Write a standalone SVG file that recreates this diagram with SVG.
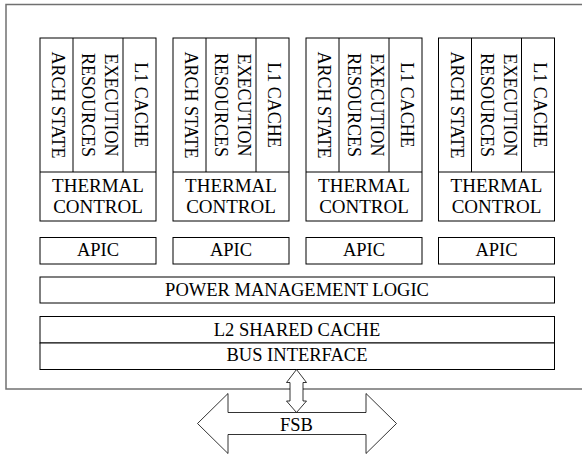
<svg xmlns="http://www.w3.org/2000/svg" width="582" height="454" viewBox="0 0 582 454">
  <style>
    .frame { fill: #fff; stroke: #707070; stroke-width: 1.5; }
    .box { fill: #fff; stroke: #000; stroke-width: 1; }
    .line { fill: none; stroke: #000; stroke-width: 1; }
    .arrow { fill: #fff; stroke: #000; stroke-width: 0.8; }
    .t { font-family: "Liberation Serif", "Times New Roman", serif; font-size: 18.5px; fill: #000; text-anchor: middle; }
    .v { font-size: 18px; }
    .th { font-size: 19px; }
  </style>
  <defs>
    <!-- one processor core: three vertical units over a thermal control strip -->
    <g id="core-shape">
      <rect class="box" x="0" y="0" width="116" height="183"/>
      <line class="line" x1="33" y1="0" x2="33" y2="134"/>
      <line class="line" x1="83" y1="0" x2="83" y2="134"/>
      <line class="line" x1="0" y1="134" x2="116" y2="134"/>
      <text class="t v" transform="translate(12 67) rotate(90)">ARCH STATE</text>
      <text class="t v" transform="translate(42 67) rotate(90)">RESOURCES</text>
      <text class="t v" transform="translate(65 67) rotate(90)">EXECUTION</text>
      <text class="t v" transform="translate(95 67) rotate(90)">L1 CACHE</text>
      <text class="t th" x="58" y="153.5">THERMAL</text>
      <text class="t th" x="58" y="175">CONTROL</text>
    </g>
  </defs>

  <!-- processor package outline -->
  <rect id="package" class="frame" x="6" y="4.5" width="600" height="384.5"/>

  <g id="core1"><use href="#core-shape" x="40" y="38"/></g>
  <g id="core2"><use href="#core-shape" x="173" y="38"/></g>
  <g id="core3"><use href="#core-shape" x="306" y="38"/></g>
  <g id="core4"><use href="#core-shape" x="438.5" y="38"/></g>

  <g id="apic1"><rect class="box" x="40" y="237.5" width="116" height="26.5"/><text class="t" x="98" y="256">APIC</text></g>
  <g id="apic2"><rect class="box" x="173" y="237.5" width="116" height="26.5"/><text class="t" x="231" y="256">APIC</text></g>
  <g id="apic3"><rect class="box" x="306" y="237.5" width="116" height="26.5"/><text class="t" x="364" y="256">APIC</text></g>
  <g id="apic4"><rect class="box" x="438.5" y="237.5" width="116" height="26.5"/><text class="t" x="496.5" y="256">APIC</text></g>

  <g id="power-management">
    <rect class="box" x="40" y="277" width="514.5" height="26"/>
    <text class="t" x="297" y="296">POWER MANAGEMENT LOGIC</text>
  </g>

  <g id="l2-cache">
    <rect class="box" x="40" y="316.5" width="514.5" height="26.5"/>
    <text class="t" x="297" y="336">L2 SHARED CACHE</text>
  </g>

  <g id="bus-interface">
    <rect class="box" x="40" y="343" width="514.5" height="26.5"/>
    <text class="t" x="297" y="361">BUS INTERFACE</text>
  </g>

  <g id="connectors">
    <!-- bus interface to front side bus -->
    <polygon class="arrow" points="296.5,369.5 306.5,382.5 303,382.5 303,401 306.5,401 296.5,412.5 286.5,401 290,401 290,382.5 286.5,382.5"/>
  </g>

  <g id="fsb">
    <polygon class="arrow" points="197.5,423.5 228,393.5 228,412.5 366,412.5 366,393.5 396.5,423.5 366,453.5 366,434.5 228,434.5 228,453.5"/>
    <text class="t" x="296.5" y="431">FSB</text>
  </g>
</svg>
